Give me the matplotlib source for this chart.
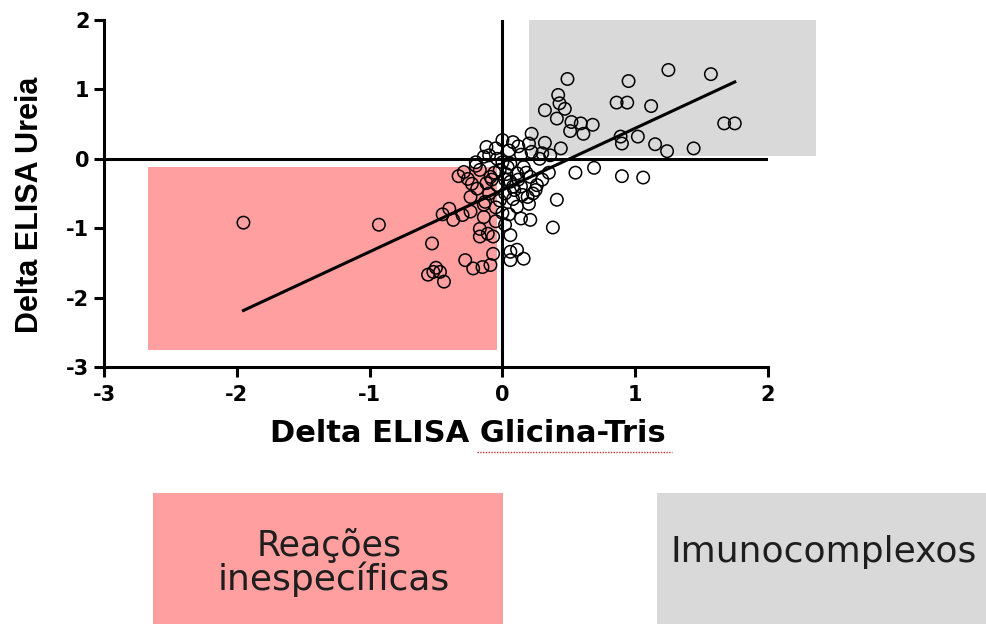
import numpy as np
import matplotlib.pyplot as plt
from matplotlib.patches import Rectangle

plt.rcParams['axes.unicode_minus'] = False

# dados (Delta ELISA Glicina-Tris, Delta ELISA Ureia)
x_glicina = [0.49, 0.95, 1.25, 1.57, 0.42, 0.43, 0.32, 0.47, 0.86, 0.94, 1.12, 0.41, 0.52, 0.59,
             0.68, 0.51, 0.61, 1.67, 1.75, 0.89, 0.90, 1.02, 1.15, 1.24, 1.44, 0.22, 0.32, 0.44, 0.20,
             -0.12, 0.00, 0.08, 0.30, 0.14, -0.14, -0.04, 0.36, 0.05, -0.05, 0.22,
             0.06, 0.16, 0.11, 0.21, 0.06, 0.14, 0.26, -0.02, -0.09, -0.17, 0.03, 0.09, 0.30, 0.35, 0.02, -0.04,
             0.55, 0.69, 0.90, 1.06,
             0.08, 0.19, 0.23, 0.11, 0.14, 0.21, 0.41, 0.38, 0.06, 0.06, 0.11, 0.16, 0.06, 0.02, 0.00,
             -0.29, -0.26, -0.23, -0.19, -0.24, -0.13, -0.37, -0.30, -0.24, -0.17, -0.17, -0.11, -0.14, -0.14,
             -0.07, -0.53, -0.52, -0.47, -0.44, -0.56, -0.50, -0.28, -0.22, -0.15, -0.09, -0.07, -1.95, -0.93,
             -0.08, -0.10, -0.05, -0.20, -0.33, -0.40, -0.45, -0.05,
             -0.10, 0.00, 0.04, -0.06, 0.12, 0.18, 0.02, -0.12, 0.08, 0.15, -0.02, 0.25, 0.28, 0.12,
             -0.20, 0.20, 0.05]
y_ureia = [1.15, 1.12, 1.28, 1.22, 0.92, 0.80, 0.70, 0.72, 0.81, 0.81, 0.76, 0.58, 0.53, 0.51,
           0.49, 0.40, 0.36, 0.51, 0.51, 0.32, 0.22, 0.32, 0.21, 0.11, 0.15, 0.36, 0.23, 0.15, 0.22,
           0.17, 0.27, 0.24, 0.08, 0.06, 0.03, 0.00, 0.05, 0.12, 0.15, 0.10,
           -0.07, -0.12, -0.21, -0.26, -0.33, -0.40, -0.38, -0.16, -0.26, -0.16, -0.22, -0.45, -0.30, -0.20, -0.50, -0.38,
           -0.20, -0.13, -0.25, -0.27,
           -0.58, -0.55, -0.50, -0.69, -0.86, -0.88, -0.59, -0.99, -1.10, -1.34, -1.31, -1.44, -1.46, -0.95, -0.78,
           -0.19, -0.29, -0.36, -0.43, -0.55, -0.62, -0.88, -0.81, -0.76, -1.01, -1.12, -1.08, -0.66, -0.84,
           -1.12, -1.22, -1.63, -1.63, -1.77, -1.67, -1.57, -1.46, -1.58, -1.56, -1.53, -1.37, -0.92, -0.95,
           -0.30, -0.50, -0.70, -0.10, -0.25, -0.72, -0.80, -0.90,
           0.05, -0.05, -0.12, -0.20, -0.30, -0.20, -0.30, -0.35, -0.40, -0.52, -0.60, -0.45, 0.00, 0.18,
           -0.05, -0.65, -0.80]

# reta de regressao
slope = 0.89
intercept = -0.45
x_fit = [-1.95, 1.75]

ticks = [-3, -2, -1, 0, 1, 2]
yticks = [-3, -2, -1, 0, 1, 2]

pink = '#ff9f9f'
gray = '#d9d9d9'
W, H = 986, 624

fig = plt.figure(figsize=(9.86, 6.24), dpi=100)
ax = fig.add_axes([104 / W, 1 - 367 / H, 664 / W, 347 / H])

# regioes
ax.add_patch(Rectangle((-2.67, -2.75), 2.63, 2.63, facecolor=pink, edgecolor='none', zorder=0))
ax.add_patch(Rectangle((0.2, 0.04), 2.16, 1.96, facecolor=gray, edgecolor='none', zorder=0, clip_on=False))

ax.axhline(0, color='black', lw=2.2, zorder=1)
ax.axvline(0, color='black', lw=2.2, zorder=1)

ax.scatter(x_glicina, y_ureia, s=80, facecolors='none', edgecolors='black', linewidths=1.1, zorder=3)
xf = np.array(x_fit)
ax.plot(xf, slope * xf + intercept, color='black', lw=2.2, zorder=4)

ax.set_xlim(-3, 2)
ax.set_ylim(-3, 2)
ax.set_xticks(ticks)
ax.set_yticks(yticks)
for s in ['top', 'right']:
    ax.spines[s].set_visible(False)
for s in ['left', 'bottom']:
    ax.spines[s].set_linewidth(2.2)
ax.tick_params(length=7, width=2.2, labelsize=15)
ax.tick_params(axis='x', pad=6)
for lab in ax.get_xticklabels() + ax.get_yticklabels():
    lab.set_fontweight('bold')
    lab.set_family('DejaVu Sans')

fig.text(30 / W, 1 - 205 / H, 'Delta ELISA Ureia', fontsize=22, fontweight='bold',
         family='Liberation Sans', rotation=90, ha='center', va='center')
fig.text(468 / W, 1 - 442 / H, 'Delta ELISA Glicina-Tris', fontsize=22, fontweight='bold',
         family='DejaVu Sans', ha='center', va='baseline')
# sublinhado vermelho do corretor
fig.add_artist(plt.Line2D([477 / W, 672 / W], [1 - 452 / H, 1 - 452 / H],
                          color='#d03030', lw=1, ls=(0, (1, 1))))

# caixas da legenda
fig.add_artist(Rectangle((153 / W, 0), 350 / W, 131 / H, transform=fig.transFigure,
                         facecolor=pink, edgecolor='none'))
fig.add_artist(Rectangle((657 / W, 0), 329 / W, 131 / H, transform=fig.transFigure,
                         facecolor=gray, edgecolor='none'))
fig.text(329 / W, 1 - 556 / H, 'Reações', fontsize=25, family='DejaVu Sans',
         ha='center', va='baseline', color='#1e1e1e')
fig.text(334 / W, 1 - 590 / H, 'inespecíficas', fontsize=26, family='DejaVu Sans',
         ha='center', va='baseline', color='#1e1e1e')
fig.text(824 / W, 1 - 562 / H, 'Imunocomplexos', fontsize=26, family='DejaVu Sans',
         ha='center', va='baseline', color='#1e1e1e')

plt.savefig('out.png', dpi=100)
